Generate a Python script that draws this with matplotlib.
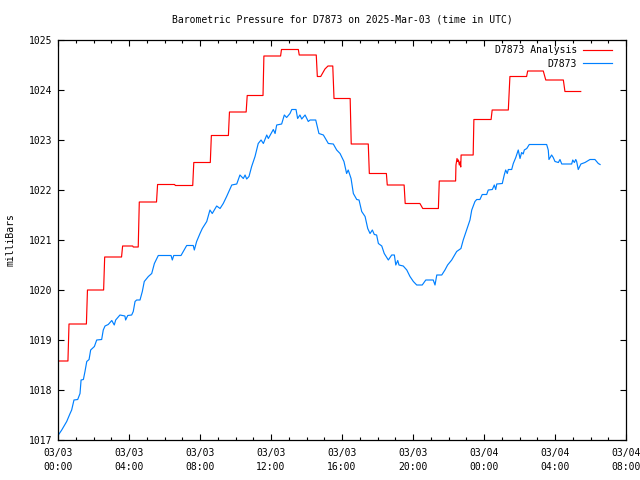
import numpy as np
import matplotlib.pyplot as plt

# hours since 2025-03-03 00:00 UTC, pressure in mb
analysis_h = [0.00, 0.56, 0.62, 1.60, 1.66, 2.57, 2.63, 3.58, 3.64, 4.21, 4.24, 4.52, 4.58,
              5.55, 5.61, 6.57, 6.61, 7.59, 7.65, 8.58, 8.64, 9.60, 9.66, 10.60, 10.66,
              11.55, 11.60, 12.54, 12.59, 13.54, 13.59, 14.55, 14.61, 14.80, 15.04, 15.21,
              15.48, 15.55, 16.46, 16.52, 17.48, 17.54, 18.50, 18.55, 19.50, 19.56, 20.39,
              20.55, 21.43, 21.48, 22.40, 22.42, 22.48, 22.52, 22.56, 22.61, 22.65, 22.69,
              22.71, 23.39, 23.43, 24.40, 24.46, 25.37, 25.46, 26.40, 26.46, 27.34, 27.48,
              28.47, 28.56, 29.45]
analysis_mb = [1018.58, 1018.58, 1019.32, 1019.32, 1020.00, 1020.00, 1020.66, 1020.66, 1020.88,
               1020.88, 1020.86, 1020.86, 1021.76, 1021.76, 1022.11, 1022.11, 1022.09, 1022.09,
               1022.55, 1022.55, 1023.09, 1023.09, 1023.56, 1023.56, 1023.89, 1023.89, 1024.68,
               1024.68, 1024.81, 1024.81, 1024.70, 1024.70, 1024.27, 1024.27, 1024.42, 1024.48,
               1024.48, 1023.83, 1023.83, 1022.92, 1022.92, 1022.33, 1022.33, 1022.10, 1022.10,
               1021.73, 1021.73, 1021.63, 1021.63, 1022.18, 1022.18, 1022.50, 1022.63, 1022.57,
               1022.60, 1022.50, 1022.56, 1022.46, 1022.70, 1022.70, 1023.41, 1023.41, 1023.60,
               1023.60, 1024.27, 1024.27, 1024.38, 1024.38, 1024.20, 1024.20, 1023.97, 1023.97]

obs_h = [0.02, 0.21, 0.49, 0.68, 0.77, 0.90, 1.11, 1.24, 1.30, 1.43, 1.52, 1.62, 1.75, 1.84,
         2.05, 2.18, 2.46, 2.55, 2.65, 2.83, 3.03, 3.17, 3.25, 3.49, 3.77, 3.81, 3.93, 4.15,
         4.24, 4.34, 4.43, 4.62, 4.75, 4.86, 5.09, 5.28, 5.43, 5.65, 6.37, 6.44, 6.52, 6.93,
         7.06, 7.25, 7.62, 7.68, 7.81, 8.00, 8.13, 8.38, 8.56, 8.69, 8.94, 9.13, 9.31, 9.50,
         9.79, 10.07, 10.25, 10.44, 10.54, 10.63, 10.76, 10.91, 11.10, 11.28, 11.44, 11.57,
         11.76, 11.85, 12.13, 12.23, 12.32, 12.60, 12.75, 12.88, 13.07, 13.17, 13.41, 13.50,
         13.63, 13.73, 13.92, 14.10, 14.20, 14.52, 14.70, 14.95, 15.23, 15.51, 15.70, 15.89,
         16.11, 16.26, 16.35, 16.51, 16.64, 16.83, 16.96, 17.11, 17.30, 17.45, 17.58, 17.71,
         17.82, 17.95, 18.05, 18.24, 18.38, 18.61, 18.80, 18.95, 19.03, 19.14, 19.21, 19.45,
         19.65, 19.83, 20.02, 20.21, 20.52, 20.72, 21.14, 21.24, 21.34, 21.62, 21.80, 21.95,
         22.18, 22.46, 22.70, 22.83, 23.02, 23.21, 23.31, 23.49, 23.59, 23.77, 23.90, 24.15,
         24.24, 24.47, 24.58, 24.66, 24.72, 25.03, 25.14, 25.22, 25.31, 25.37, 25.56, 25.65,
         25.79, 25.93, 26.03, 26.12, 26.21, 26.27, 26.41, 26.55, 27.53, 27.62, 27.66, 27.81,
         27.90, 28.00, 28.19, 28.28, 28.38, 28.94, 29.00, 29.09, 29.17, 29.22, 29.31, 29.46,
         29.69, 29.97, 30.25, 30.44, 30.54]
obs_mb = [1017.10, 1017.20, 1017.37, 1017.53, 1017.60, 1017.80, 1017.81, 1017.93, 1018.20,
          1018.21, 1018.37, 1018.57, 1018.61, 1018.80, 1018.87, 1019.00, 1019.01, 1019.20,
          1019.28, 1019.31, 1019.39, 1019.30, 1019.40, 1019.50, 1019.48, 1019.40, 1019.49,
          1019.50, 1019.57, 1019.77, 1019.80, 1019.80, 1019.97, 1020.17, 1020.27, 1020.33,
          1020.53, 1020.69, 1020.69, 1020.60, 1020.69, 1020.69, 1020.77, 1020.89, 1020.89,
          1020.80, 1020.97, 1021.13, 1021.23, 1021.37, 1021.60, 1021.53, 1021.68, 1021.63,
          1021.73, 1021.87, 1022.10, 1022.12, 1022.30, 1022.23, 1022.30, 1022.22, 1022.27,
          1022.47, 1022.67, 1022.93, 1023.00, 1022.93, 1023.10, 1023.03, 1023.21, 1023.13,
          1023.30, 1023.32, 1023.50, 1023.45, 1023.53, 1023.61, 1023.61, 1023.43, 1023.50,
          1023.42, 1023.50, 1023.37, 1023.40, 1023.40, 1023.13, 1023.10, 1022.93, 1022.92,
          1022.80, 1022.73, 1022.57, 1022.33, 1022.40, 1022.23, 1021.93, 1021.81, 1021.80,
          1021.57, 1021.47, 1021.23, 1021.13, 1021.20, 1021.11, 1021.10, 1020.93, 1020.88,
          1020.73, 1020.60, 1020.70, 1020.70, 1020.50, 1020.59, 1020.50, 1020.48, 1020.40,
          1020.27, 1020.17, 1020.10, 1020.10, 1020.20, 1020.20, 1020.10, 1020.30, 1020.30,
          1020.40, 1020.50, 1020.60, 1020.77, 1020.83, 1021.00, 1021.20, 1021.40, 1021.60,
          1021.77, 1021.81, 1021.81, 1021.91, 1021.91, 1022.00, 1022.01, 1022.10, 1022.01,
          1022.12, 1022.13, 1022.30, 1022.40, 1022.33, 1022.41, 1022.41, 1022.53, 1022.65,
          1022.80, 1022.63, 1022.75, 1022.72, 1022.80, 1022.83, 1022.91, 1022.91, 1022.80,
          1022.61, 1022.70, 1022.65, 1022.57, 1022.55, 1022.61, 1022.52, 1022.52, 1022.60,
          1022.55, 1022.61, 1022.57, 1022.41, 1022.52, 1022.55, 1022.61, 1022.61, 1022.53,
          1022.51]

xtick_h = [0, 4, 8, 12, 16, 20, 24, 28, 32]
xtick_labels = ["03/03\n00:00", "03/03\n04:00", "03/03\n08:00", "03/03\n12:00", "03/03\n16:00",
                "03/03\n20:00", "03/04\n00:00", "03/04\n04:00", "03/04\n08:00"]
ytick_mb = [1017, 1018, 1019, 1020, 1021, 1022, 1023, 1024, 1025]

plt.rcParams['font.family'] = 'DejaVu Sans Mono'
plt.rcParams['font.size'] = 7

fig = plt.figure(figsize=(6.4, 4.8), dpi=100)
ax = fig.add_axes([58/640, 40/480, 568/640, 400/480])

ax.plot(analysis_h, analysis_mb, color='#ff0000', lw=0.85, label='D7873 Analysis')
ax.plot(obs_h, obs_mb, color='#0080ff', lw=0.85, label='D7873')

ax.set_xlim(0, 32)
ax.set_ylim(1017, 1025)
ax.set_xticks(xtick_h)
ax.set_xticklabels(xtick_labels, linespacing=1.5)
ax.set_xticks(np.arange(0, 33, 1), minor=True)
ax.set_yticks(ytick_mb)
ax.tick_params(which='both', direction='in', top=True, right=True, width=0.8)
ax.tick_params(which='major', length=4, pad=4)
ax.tick_params(which='minor', length=2)
ax.tick_params(axis='x', which='major', pad=6)
for s in ax.spines.values():
    s.set_linewidth(0.9)

ax.set_ylabel('milliBars', labelpad=10)
fig.text(342/640, 1 - 19/480, 'Barometric Pressure for D7873 on 2025-Mar-03 (time in UTC)',
         ha='center', va='center')

leg = ax.legend(loc='upper right', bbox_to_anchor=(0.975, 0.987), frameon=False,
                markerfirst=False, handlelength=3.0, handletextpad=0.6,
                labelspacing=0.35, borderaxespad=0.0, borderpad=0.0)
for t in leg.get_texts():
    t.set_ha('right')

fig.savefig('out.png', dpi=100)
